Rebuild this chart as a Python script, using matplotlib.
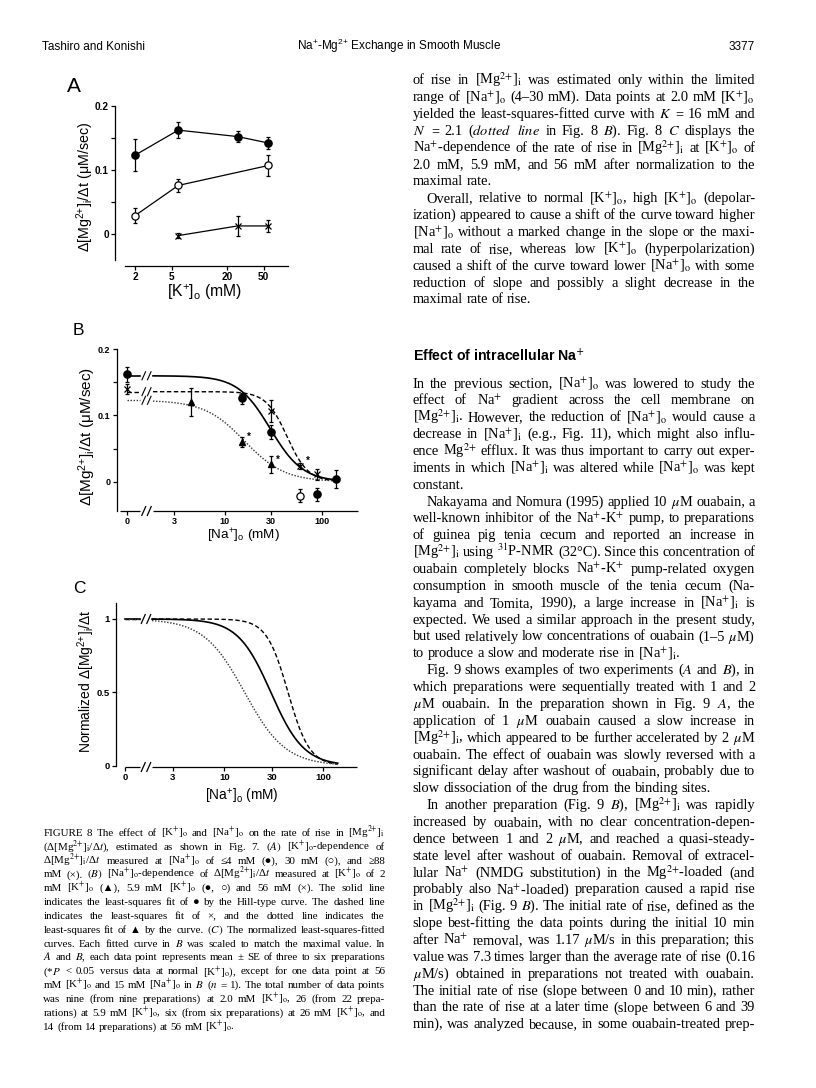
import numpy as np
import matplotlib
matplotlib.use('Agg')
import matplotlib.pyplot as plt
from matplotlib.lines import Line2D
from matplotlib.ticker import FixedLocator, FixedFormatter, NullLocator

W, H, DPI = 816, 1088, 100

# ---------------- data ----------------
# Panel A: [K+]o dependence of the rate of rise
a_k_na4 = [2.0, 5.9, 26.0, 56.0]
a_na4 = [0.123, 0.162, 0.152, 0.142]
a_na4_se = [0.025, 0.012, 0.009, 0.010]
a_k_na30 = [2.0, 5.9, 56.0]
a_na30 = [0.029, 0.076, 0.107]
a_na30_se = [0.012, 0.010, 0.017]
a_k_na88 = [5.9, 26.0, 56.0]
a_na88 = [-0.002, 0.013, 0.013]
a_na88_se = [0.004, 0.015, 0.010]
a_xticks = [2, 5, 20, 50]
a_yticks = [0, 0.1, 0.2]

# Panel B: [Na+]o dependence (0 mM is drawn left of the axis break)
b_na_k59 = [0, 15, 30, 90, 140]
b_k59 = [0.162, 0.126, 0.075, -0.019, 0.004]
b_k59_se = [0.011, 0.008, 0.010, 0.010, 0.013]
b_na_k59_open = [60]
b_k59_open = [-0.021]
b_k59_open_se = [0.010]
b_na_k56 = [0, 15, 30, 60, 90]
b_k56 = [0.140, 0.128, 0.107, 0.024, 0.011]
b_k56_se = [0.008, 0.004, 0.017, 0.005, 0.008]
b_na_k2 = [4.5, 15, 30]
b_k2 = [0.120, 0.060, 0.026]
b_k2_se = [0.021, 0.007, 0.013]
b_star_k2 = [15, 30]
b_star_k56 = [60]
b_xticks = [3, 10, 30, 100]
b_yticks = [0, 0.1, 0.2]

# Hill-type fits (solid: 5.9 mM K, dashed: 56 mM K, dotted: 2 mM K)
fit_vmax = [0.160, 0.136, 0.123]
fit_K = [29.5, 44.0, 16.0]
fit_N = [2.6, 4.0, 2.1]
fit_na_max = 140.0
c_yticks = [0, 0.5, 1]

# ---------------- fonts ----------------
plt.rcParams['mathtext.fontset'] = 'custom'
plt.rcParams['mathtext.rm'] = 'Liberation Sans'
plt.rcParams['mathtext.it'] = 'Liberation Sans:italic'
plt.rcParams['mathtext.bf'] = 'Liberation Sans:bold'
plt.rcParams['font.family'] = ['Liberation Sans', 'DejaVu Sans']
SANS = ['Liberation Sans', 'DejaVu Sans']
SERIF = ['Liberation Serif', 'DejaVu Serif']

fig = plt.figure(figsize=(W / DPI, H / DPI), dpi=DPI)
fig.patch.set_facecolor('white')


def ax_px(l, t, r, b):
    return fig.add_axes([l / W, 1 - b / H, (r - l) / W, (b - t) / H])


def log_map(v1, p1, v2, p2):
    s = (p2 - p1) / (np.log10(v2) - np.log10(v1))
    return lambda p: 10 ** (np.log10(v1) + (p - p1) / s)


def lin_map(v1, p1, v2, p2):
    s = (p2 - p1) / (v2 - v1)
    return lambda p: v1 + (p - p1) / s


def px_line(x1, y1, x2, y2, lw=0.9, color='k'):
    fig.add_artist(Line2D([x1 / W, x2 / W], [1 - y1 / H, 1 - y2 / H],
                          transform=fig.transFigure, color=color, lw=lw,
                          solid_capstyle='butt'))


def slashes(xc, yc, dx=2.2, dy=5.0, sep=5.5, lw=0.9):
    for off in (-sep / 2, sep / 2):
        px_line(xc + off - dx, yc + dy, xc + off + dx, yc - dy, lw=lw)


def to_px(ax, x, y):
    dx, dy = ax.transData.transform((x, y))
    return dx, H - dy


def style(ax, tsize):
    for s in ['top', 'right']:
        ax.spines[s].set_visible(False)
    for s in ['left', 'bottom']:
        ax.spines[s].set_linewidth(0.9)
    ax.tick_params(which='both', direction='out', length=3, width=0.9,
                   pad=1.5, labelsize=tsize)
    ax.set_facecolor('none')


def bold_ticklabels(ax):
    for lab in ax.get_xticklabels() + ax.get_yticklabels():
        lab.set_fontweight('bold')


def hill(x, vmax, K, N):
    return vmax / (1.0 + (x / K) ** N)


EB = dict(ecolor='k', elinewidth=0.9, capsize=1.6, capthick=0.9,
          clip_on=False, zorder=5)

# ================= Panel A =================
axA = ax_px(115, 105, 288, 266)
style(axA, 7.2)
axA.set_xscale('log')
fxA = log_map(2, 135, 56, 268.3)
fyA = lin_map(0.2, 105.7, 0.0, 234.3)
axA.set_xlim(fxA(115), fxA(288))
axA.set_ylim(fyA(266), fyA(105))
axA.spines['left'].set_bounds(fyA(260), 0.2)
axA.spines['bottom'].set_bounds(fxA(125), fxA(288))
axA.xaxis.set_major_locator(FixedLocator(a_xticks))
axA.xaxis.set_major_formatter(FixedFormatter([str(v) for v in a_xticks]))
axA.xaxis.set_minor_locator(NullLocator())
axA.yaxis.set_major_locator(FixedLocator(a_yticks))
axA.yaxis.set_major_formatter(FixedFormatter(['0', '0.1', '0.2']))
axA.yaxis.set_minor_locator(FixedLocator([0.05, 0.15]))
bold_ticklabels(axA)

axA.plot(a_k_na4, a_na4, '-', color='k', lw=0.9, zorder=3, clip_on=False)
axA.errorbar(a_k_na4, a_na4, yerr=a_na4_se, fmt='o', ms=5.2, mfc='k',
             mec='k', **EB)
axA.plot(a_k_na30, a_na30, '-', color='k', lw=0.9, zorder=3, clip_on=False)
axA.errorbar(a_k_na30, a_na30, yerr=a_na30_se, fmt='o', ms=5.2, mfc='white',
             mec='k', mew=0.9, **EB)
axA.plot(a_k_na88, a_na88, '-', color='k', lw=0.9, zorder=3, clip_on=False)
axA.errorbar(a_k_na88, a_na88, yerr=a_na88_se, fmt='x', ms=4.5, mfc='k',
             mec='k', mew=0.9, **EB)

fig.text(67 / W, 1 - 92 / H, 'A', fontsize=15, family=SANS, ha='left',
         va='baseline')
fig.text(85.5 / W, 1 - 187 / H, r'Δ[Mg$^{2{+}}$]$_{\mathrm{i}}$/Δt (μM/sec)',
         fontsize=10.3, family=SANS, rotation=90, ha='center', va='center')
fig.text(205 / W, 1 - 296.5 / H, r'[K$^{+}$]$_{\mathrm{o}}$ (mM)',
         fontsize=11.3, family=SANS, ha='center', va='baseline')

# ================= Panel B =================
axB = ax_px(116.7, 349.3, 358.3, 511)
style(axB, 6.5)
axB.set_xscale('log')
fxB = log_map(3, 174, 100, 321.7)
fyB = lin_map(0.2, 349.3, 0.0, 481.7)
axB.set_xlim(fxB(116.7), fxB(358.3))
axB.set_ylim(fyB(511), fyB(349.3))
ZB = fxB(126.7)
brkB_l, brkB_r = fxB(140), fxB(153)
axB.spines['left'].set_bounds(fyB(511), 0.2)
axB.spines['bottom'].set_visible(False)
axB.xaxis.set_major_locator(FixedLocator([ZB] + b_xticks))
axB.xaxis.set_major_formatter(FixedFormatter(['0'] + [str(v) for v in b_xticks]))
axB.xaxis.set_minor_locator(NullLocator())
axB.yaxis.set_major_locator(FixedLocator(b_yticks))
axB.yaxis.set_major_formatter(FixedFormatter(['0', '0.1', '0.2']))
axB.yaxis.set_minor_locator(FixedLocator([0.05, 0.15]))
bold_ticklabels(axB)
px_line(120, 511, 140, 511)
px_line(153, 511, 358.3, 511)
slashes(146.5, 511)


def zb(vals):
    return [ZB if v == 0 else v for v in vals]


LS = [dict(ls='-', lw=1.2, color='k'),
      dict(ls=(0, (3.2, 1.8)), lw=1.0, color='k'),
      dict(ls=(0, (1.0, 1.2)), lw=1.0, color='#333333')]
for vmax, K, N, st in zip(fit_vmax, fit_K, fit_N, LS):
    xs = np.geomspace(brkB_r, fit_na_max, 300)
    axB.plot(xs, hill(xs, vmax, K, N), zorder=2, **st)
    axB.plot([ZB, brkB_l], [vmax, vmax], zorder=2, **st)
    _, ypx = to_px(axB, ZB, vmax)
    slashes(146.5, ypx, dx=2.0, dy=4.5, lw=0.8)

axB.errorbar(zb(b_na_k59), b_k59, yerr=b_k59_se, fmt='o', ms=5.2, mfc='k',
             mec='k', **EB)
axB.errorbar(b_na_k59_open, b_k59_open, yerr=b_k59_open_se, fmt='o', ms=5.2,
             mfc='white', mec='k', mew=0.9, **EB)
axB.errorbar(zb(b_na_k56), b_k56, yerr=b_k56_se, fmt='x', ms=4.5, mec='k',
             mew=0.9, **EB)
axB.errorbar(b_na_k2, b_k2, yerr=b_k2_se, fmt='^', ms=5.0, mfc='k', mec='k',
             **EB)
for xv in b_star_k2:
    axB.annotate('*', (xv, b_k2[b_na_k2.index(xv)]), xytext=(3.5, 0),
                 textcoords='offset points', fontsize=7, fontweight='bold',
                 ha='left', va='bottom')
for xv in b_star_k56:
    axB.annotate('*', (xv, b_k56[b_na_k56.index(xv)]), xytext=(4, 0),
                 textcoords='offset points', fontsize=7, fontweight='bold',
                 ha='left', va='bottom')

fig.text(73 / W, 1 - 335 / H, 'B', fontsize=12.5, family=SANS, ha='left',
         va='baseline')
fig.text(87 / W, 1 - 436.7 / H, r'Δ[Mg$^{2{+}}$]$_{\mathrm{i}}$/Δt (μM/sec)',
         fontsize=11, family=SANS, rotation=90, ha='center', va='center')
fig.text(243 / W, 1 - 539.5 / H, r'[Na$^{+}$]$_{\mathrm{o}}$ (mM)',
         fontsize=9.7, family=SANS, ha='center', va='baseline')

# ================= Panel C =================
axC = ax_px(116, 603, 356.7, 767)
style(axC, 6.8)
axC.set_xscale('log')
fxC = log_map(3, 172.7, 100, 323.3)
fyC = lin_map(1.0, 619, 0.0, 765.7)
axC.set_xlim(fxC(116), fxC(356.7))
axC.set_ylim(fyC(767), fyC(603))
ZC = fxC(125.3)
brkC_l, brkC_r = fxC(140), fxC(152)
axC.spines['left'].set_bounds(0, fyC(603))
axC.spines['bottom'].set_visible(False)
axC.xaxis.set_major_locator(FixedLocator([ZC] + b_xticks))
axC.xaxis.set_major_formatter(FixedFormatter(['0'] + [str(v) for v in b_xticks]))
axC.xaxis.set_minor_locator(NullLocator())
axC.yaxis.set_major_locator(FixedLocator(c_yticks))
axC.yaxis.set_major_formatter(FixedFormatter(['0', '0.5', '1']))
axC.yaxis.set_minor_locator(NullLocator())
bold_ticklabels(axC)
px_line(125, 767, 140, 767)
px_line(152, 767, 356.7, 767)
slashes(146, 767)

for vmax, K, N, st in zip(fit_vmax, fit_K, fit_N, LS):
    xs = np.geomspace(brkC_r, fit_na_max, 300)
    axC.plot(xs, hill(xs, 1.0, K, N), zorder=2, **st)
    axC.plot([ZC, brkC_l], [1.0, 1.0], zorder=2, **st)
_, ypx = to_px(axC, ZC, 1.0)
slashes(146, ypx)

fig.text(73 / W, 1 - 593 / H, 'C', fontsize=12.5, family=SANS, ha='left',
         va='baseline')
fig.text(86 / W, 1 - 681 / H, r'Normalized Δ[Mg$^{2{+}}$]$_{\mathrm{i}}$/Δt',
         fontsize=10, family=SANS, rotation=90, ha='center', va='center')
fig.text(241.7 / W, 1 - 800.5 / H, r'[Na$^{+}$]$_{\mathrm{o}}$ (mM)',
         fontsize=9.8, family=SANS, ha='center', va='baseline')

# ================= Header =================
fig.text(41.7 / W, 1 - 50 / H, 'Tashiro and Konishi', fontsize=8.5,
         family=SANS, ha='left', va='baseline')
fig.text(296.7 / W, 1 - 50 / H,
         r'Na$^{+}$-Mg$^{2{+}}$ Exchange in Smooth Muscle', fontsize=8.5,
         family=SANS, ha='left', va='baseline')
fig.text(755 / W, 1 - 50 / H, '3377', fontsize=8.5, family=SANS, ha='right',
         va='baseline')
fig.text(412.7 / W, 1 - 361 / H, r'Effect of intracellular Na$^{+}$',
         fontsize=10.2, family=SANS, fontweight='bold', ha='left',
         va='baseline', math_fontfamily='dejavusans')

# ================= Justified text =================
renderer = fig.canvas.get_renderer()
_wcache = {}


def word_width(s, fs):
    key = (s, fs)
    if key not in _wcache:
        t = fig.text(0, 0, s, fontsize=fs, family=SERIF,
                     math_fontfamily='stix')
        _wcache[key] = t.get_window_extent(renderer).width
        t.remove()
    return _wcache[key]


def sub(s):
    rep = {
        '%KO%': r'[K$^{+}$]$_{\mathrm{o}}$',
        '%NAO%': r'[Na$^{+}$]$_{\mathrm{o}}$',
        '%NAI%': r'[Na$^{+}$]$_{\mathrm{i}}$',
        '%MGI%': r'[Mg$^{2{+}}$]$_{\mathrm{i}}$',
        '%NA%': r'Na$^{+}$',
        '%MG%': r'Mg$^{2{+}}$',
        '%K%': r'K$^{+}$',
        '%UM%': r'$\mu$M',
        '%DR%': r'Δ[Mg$^{2{+}}$]$_{\mathrm{i}}$/Δ$t$',
    }
    for k, v in rep.items():
        s = s.replace(k, v)
    return s


def text_block(lines, x0, y0, dy, width, fs, base_off):
    # lines: list of (text, justify, indent)
    for i, (txt, just, ind) in enumerate(lines):
        words = sub(txt).split()
        ws = [word_width(w, fs) for w in words]
        avail = width - ind
        sp = fs * DPI / 72 * 0.25
        if just and len(words) > 1:
            gap = (avail - sum(ws)) / (len(words) - 1)
            gap = max(gap, sp * 0.6)
        else:
            gap = sp
        x = x0 + ind
        yb = y0 + i * dy + base_off
        for w, wd in zip(words, ws):
            fig.text(x / W, 1 - yb / H, w, fontsize=fs, family=SERIF,
                     math_fontfamily='stix', ha='left', va='baseline')
            x += wd + gap


J, L = True, False
caption = [
    ('FIGURE 8 The effect of %KO% and %NAO% on the rate of rise in %MGI%', J, 0),
    (r'(%DR%), estimated as shown in Fig. 7. $(\mathit{A})$ %KO%-dependence of', J, 0),
    ('%DR% measured at %NAO% of ≤4 mM (●), 30 mM (○), and ≥88', J, 0),
    (r'mM (×). $(\mathit{B})$ %NAO%-dependence of %DR% measured at %KO% of 2', J, 0),
    ('mM %KO% (▲), 5.9 mM %KO% (●, ○) and 56 mM (×). The solid line', J, 0),
    ('indicates the least-squares fit of ● by the Hill-type curve. The dashed line', J, 0),
    ('indicates the least-squares fit of ×, and the dotted line indicates the', J, 0),
    (r'least-squares fit of ▲ by the curve. $(\mathit{C})$ The normalized least-squares-fitted', J, 0),
    (r'curves. Each fitted curve in $\mathit{B}$ was scaled to match the maximal value. In', J, 0),
    (r'$\mathit{A}$ and $\mathit{B}$, each data point represents mean ± SE of three to six preparations', J, 0),
    (r'(*$\mathit{P}$ < 0.05 versus data at normal %KO%), except for one data point at 56', J, 0),
    (r'mM %KO% and 15 mM %NAO% in $\mathit{B}$ ($\mathit{n}$ = 1). The total number of data points', J, 0),
    ('was nine (from nine preparations) at 2.0 mM %KO%, 26 (from 22 prepa-', J, 0),
    ('rations) at 5.9 mM %KO%, six (from six preparations) at 26 mM %KO%, and', J, 0),
    ('14 (from 14 preparations) at 56 mM %KO%.', L, 0),
]
text_block(caption, 43.3, 832.5, 13.85, 341.7, 7.95, 3.3)

IND = 14
col_top = [
    ('of rise in %MGI% was estimated only within the limited', J, 0),
    ('range of %NAO% (4–30 mM). Data points at 2.0 mM %KO%', J, 0),
    (r'yielded the least-squares-fitted curve with $\mathit{K}$ = 16 mM and', J, 0),
    (r'$\mathit{N}$ = 2.1 ($\mathit{dotted}$ $\mathit{line}$ in Fig. 8 $\mathit{B}$). Fig. 8 $\mathit{C}$ displays the', J, 0),
    ('%NA%-dependence of the rate of rise in %MGI% at %KO% of', J, 0),
    ('2.0 mM, 5.9 mM, and 56 mM after normalization to the', J, 0),
    ('maximal rate.', L, 0),
    ('Overall, relative to normal %KO%, high %KO% (depolar-', J, IND),
    ('ization) appeared to cause a shift of the curve toward higher', J, 0),
    ('%NAO% without a marked change in the slope or the maxi-', J, 0),
    ('mal rate of rise, whereas low %KO% (hyperpolarization)', J, 0),
    ('caused a shift of the curve toward lower %NAO% with some', J, 0),
    ('reduction of slope and possibly a slight decrease in the', J, 0),
    ('maximal rate of rise.', L, 0),
]
text_block(col_top, 412.7, 80, 16.86, 342.3, 10.4, 4.3)

col_main = [
    ('In the previous section, %NAO% was lowered to study the', J, 0),
    ('effect of %NA% gradient across the cell membrane on', J, 0),
    ('%MGI%. However, the reduction of %NAO% would cause a', J, 0),
    ('decrease in %NAI% (e.g., Fig. 11), which might also influ-', J, 0),
    ('ence %MG% efflux. It was thus important to carry out exper-', J, 0),
    ('iments in which %NAI% was altered while %NAO% was kept', J, 0),
    ('constant.', L, 0),
    ('Nakayama and Nomura (1995) applied 10 %UM% ouabain, a', J, IND),
    ('well-known inhibitor of the %NA%-%K% pump, to preparations', J, 0),
    ('of guinea pig tenia cecum and reported an increase in', J, 0),
    (r'%MGI% using $^{31}$P-NMR (32°C). Since this concentration of', J, 0),
    ('ouabain completely blocks %NA%-%K% pump-related oxygen', J, 0),
    ('consumption in smooth muscle of the tenia cecum (Na-', J, 0),
    ('kayama and Tomita, 1990), a large increase in %NAI% is', J, 0),
    ('expected. We used a similar approach in the present study,', J, 0),
    ('but used relatively low concentrations of ouabain (1–5 %UM%)', J, 0),
    ('to produce a slow and moderate rise in %NAI%.', L, 0),
    (r'Fig. 9 shows examples of two experiments ($\mathit{A}$ and $\mathit{B}$), in', J, IND),
    ('which preparations were sequentially treated with 1 and 2', J, 0),
    (r'%UM% ouabain. In the preparation shown in Fig. 9 $\mathit{A}$, the', J, 0),
    ('application of 1 %UM% ouabain caused a slow increase in', J, 0),
    ('%MGI%, which appeared to be further accelerated by 2 %UM%', J, 0),
    ('ouabain. The effect of ouabain was slowly reversed with a', J, 0),
    ('significant delay after washout of ouabain, probably due to', J, 0),
    ('slow dissociation of the drug from the binding sites.', L, 0),
    (r'In another preparation (Fig. 9 $\mathit{B}$), %MGI% was rapidly', J, IND),
    ('increased by ouabain, with no clear concentration-depen-', J, 0),
    ('dence between 1 and 2 %UM%, and reached a quasi-steady-', J, 0),
    ('state level after washout of ouabain. Removal of extracel-', J, 0),
    ('lular %NA% (NMDG substitution) in the %MG%-loaded (and', J, 0),
    ('probably also %NA%-loaded) preparation caused a rapid rise', J, 0),
    (r'in %MGI% (Fig. 9 $\mathit{B}$). The initial rate of rise, defined as the', J, 0),
    ('slope best-fitting the data points during the initial 10 min', J, 0),
    ('after %NA% removal, was 1.17 %UM%/s in this preparation; this', J, 0),
    ('value was 7.3 times larger than the average rate of rise (0.16', J, 0),
    ('%UM%/s) obtained in preparations not treated with ouabain.', J, 0),
    ('The initial rate of rise (slope between 0 and 10 min), rather', J, 0),
    ('than the rate of rise at a later time (slope between 6 and 39', J, 0),
    ('min), was analyzed because, in some ouabain-treated prep-', J, 0),
]
text_block(col_main, 412.7, 383.3, 16.86, 342.3, 10.4, 4.3)

fig.savefig('out.png', dpi=DPI, facecolor='white')
